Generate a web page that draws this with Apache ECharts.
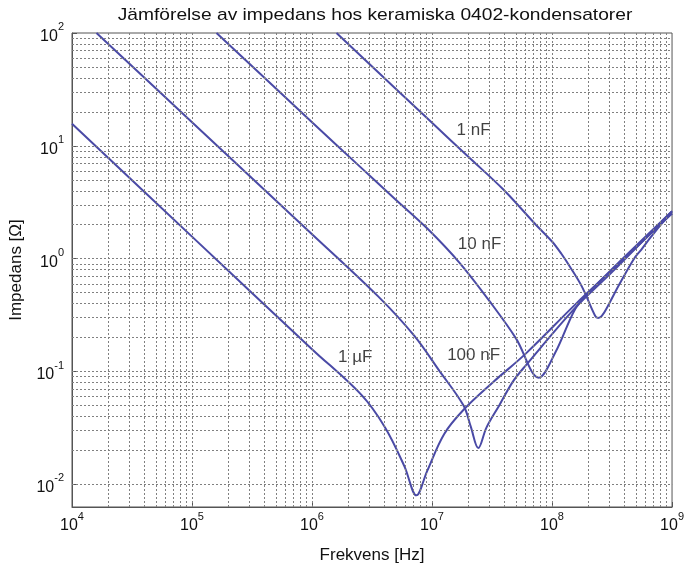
<!DOCTYPE html>
<html>
<head>
<meta charset="utf-8">
<script src="https://cdn.jsdelivr.net/npm/echarts@6/dist/echarts.min.js"></script>
<style>
    html, body { margin: 0; padding: 0; background: #fff; }
    #chart { width: 687px; height: 569px; }
</style>
</head>
<body>
<div id="chart"></div>
<script>
// frekvens [Hz] / impedans [ohm]
const freq_1uF = [1e4, 1e5, 1e6, 2.57e6, 4.05e6, 5.9e6, 7.41e6, 9.12e6, 1.26e7, 1.84e7, 3.24e7, 6.07e7, 1.58e8, 3.16e8, 1e9]
const imp_1uF = [15.7, 1.57, 0.158, 0.0624, 0.0321, 0.0144, 0.0080, 0.0132, 0.0279, 0.0461, 0.0809, 0.145, 0.398, 0.794, 2.51]

const freq_100nF = [1.6e4, 1e5, 1e6, 3.54e6, 7.1e6, 1.14e7, 1.83e7, 2.1e7, 2.43e7, 2.84e7, 3.66e7, 4.72e7, 6.07e7, 1.58e8, 3.16e8, 1e9]
const imp_100nF = [100, 16.2, 1.65, 0.466, 0.208, 0.103, 0.050, 0.0327, 0.021, 0.0319, 0.0509, 0.0815, 0.114, 0.372, 0.76, 2.63]

const freq_10nF = [1.6e5, 1e6, 2.43e6, 4.86e6, 9.14e6, 1.71e7, 3.23e7, 5.02e7, 7.76e7, 1.07e8, 1.56e8, 2.0e8, 2.92e8, 1e9]
const imp_10nF = [100, 16.2, 6.75, 3.42, 1.85, 0.91, 0.381, 0.196, 0.0883, 0.149, 0.359, 0.494, 0.745, 2.63]

const freq_1nF = [1.6e6, 1e7, 2.06e7, 3.93e7, 7.33e7, 1e8, 1.2e8, 1.41e8, 1.77e8, 2.29e8, 2.42e8, 2.6e8, 2.92e8, 3.63e8, 4.88e8, 5.53e8, 6.67e8, 9.1e8, 1e9]
const imp_1nF = [100, 16.0, 7.8, 4.1, 2.0, 1.42, 1.10, 0.85, 0.569, 0.311, 0.299, 0.311, 0.381, 0.59, 1.02, 1.20, 1.56, 2.33, 2.51]

// etiketter vid kurvorna: namn, frekvens, impedans
const labelNames = ['1 nF', '10 nF', '100 nF', '1 µF']
const labelFreq = [2.22e7, 2.49e7, 2.22e7, 2.29e6]
const labelImp = [13.6, 1.35, 0.139, 0.134]

const xMin = 1e4
const xMax = 1e9
const yMin = Math.pow(10, -2.2)
const yMax = 100

const lineColor = '#4a4aa6'
const gridColor = '#808080'
const font = '"Liberation Sans", Arial, sans-serif'

function pairs(f, z) {
    return f.map((v, i) => [v, z[i]])
}

// rutnät för log-axlarna: 1..9 gånger varje dekad
function logGrid(lo, hi) {
    let out = []
    for (let d = -3; d <= 9; d++) {
        for (let k = 1; k <= 9; k++) {
            let v = k * Math.pow(10, d)
            if (v > lo * 1.0001 && v < hi * 0.9999) out.push(v)
        }
    }
    return out
}

let gridLines = []
logGrid(xMin, xMax).forEach(v => {
    gridLines.push({ xAxis: v, lineStyle: { color: gridColor, type: [2, 2], width: 1 } })
})
logGrid(yMin, yMax).forEach(v => {
    gridLines.push({ yAxis: v, lineStyle: { color: gridColor, type: [2, 2], width: 1 } })
})

function powLabel(value) {
    let e = Math.log10(value)
    if (Math.abs(e - Math.round(e)) > 1e-6) return ''
    return '{b|10}{s|' + Math.round(e) + '}'
}
const labelRich = {
    b: { fontSize: 16, fontFamily: font, color: '#111', lineHeight: 23, verticalAlign: 'bottom' },
    s: { fontSize: 11, fontFamily: font, color: '#111', lineHeight: 11, verticalAlign: 'top' }
}

const curves = [
    ['1 µF', freq_1uF, imp_1uF],
    ['100 nF', freq_100nF, imp_100nF],
    ['10 nF', freq_10nF, imp_10nF],
    ['1 nF', freq_1nF, imp_1nF]
]

let series = []
series.push({
    name: 'grid',
    type: 'line',
    data: [[xMin, 1]],
    showSymbol: false,
    silent: true,
    z: 1,
    lineStyle: { opacity: 0 },
    markLine: {
        silent: true,
        symbol: ['none', 'none'],
        label: { show: false },
        animation: false,
        data: gridLines
    }
})
curves.forEach(c => {
    series.push({
        name: c[0],
        type: 'line',
        data: pairs(c[1], c[2]),
        showSymbol: false,
        smooth: 0.35,
        z: 3,
        lineStyle: { color: lineColor, width: 2 }
    })
})
series.push({
    name: 'labels',
    type: 'scatter',
    symbolSize: 0,
    z: 4,
    data: labelNames.map((n, i) => ({ name: n, value: [labelFreq[i], labelImp[i]] })),
    label: {
        show: true,
        position: 'inside',
        formatter: '{b}',
        fontSize: 17,
        fontFamily: font,
        color: '#111'
    }
})

const chart = echarts.init(document.getElementById('chart'))
chart.setOption({
    animation: false,
    backgroundColor: '#fff',
    graphic: [{
        type: 'text',
        x: 375,
        y: 15,
        scaleX: 1.13,
        style: {
            text: 'Jämförelse av impedans hos keramiska 0402-kondensatorer',
            fontSize: 17,
            fontFamily: font,
            fill: '#111',
            align: 'center',
            verticalAlign: 'middle'
        }
    }],
    grid: {
        left: 70,
        right: 9,
        top: 33,
        bottom: 57,
        show: true,
        borderColor: '#555',
        borderWidth: 1,
        backgroundColor: '#fff'
    },
    xAxis: {
        type: 'log',
        logBase: 10,
        min: xMin,
        max: xMax,
        name: 'Frekvens [Hz]',
        nameLocation: 'middle',
        nameGap: 40,
        nameTextStyle: { fontSize: 17, fontFamily: font, color: '#111' },
        axisLine: { show: true, lineStyle: { color: '#555' } },
        axisTick: { show: true, inside: true, length: 5, lineStyle: { color: '#555' } },
        splitLine: { show: false },
        minorTick: { show: false },
        axisLabel: { formatter: powLabel, rich: labelRich, margin: 4 }
    },
    yAxis: {
        type: 'log',
        logBase: 10,
        min: yMin,
        max: yMax,
        name: 'Impedans [Ω]',
        nameLocation: 'middle',
        nameGap: 47,
        nameTextStyle: { fontSize: 17, fontFamily: font, color: '#111' },
        axisLine: { show: true, lineStyle: { color: '#555' } },
        axisTick: { show: true, inside: true, length: 5, lineStyle: { color: '#555' } },
        splitLine: { show: false },
        axisLabel: { formatter: powLabel, rich: labelRich, margin: 8 }
    },
    series: series
})
</script>
</body>
</html>
